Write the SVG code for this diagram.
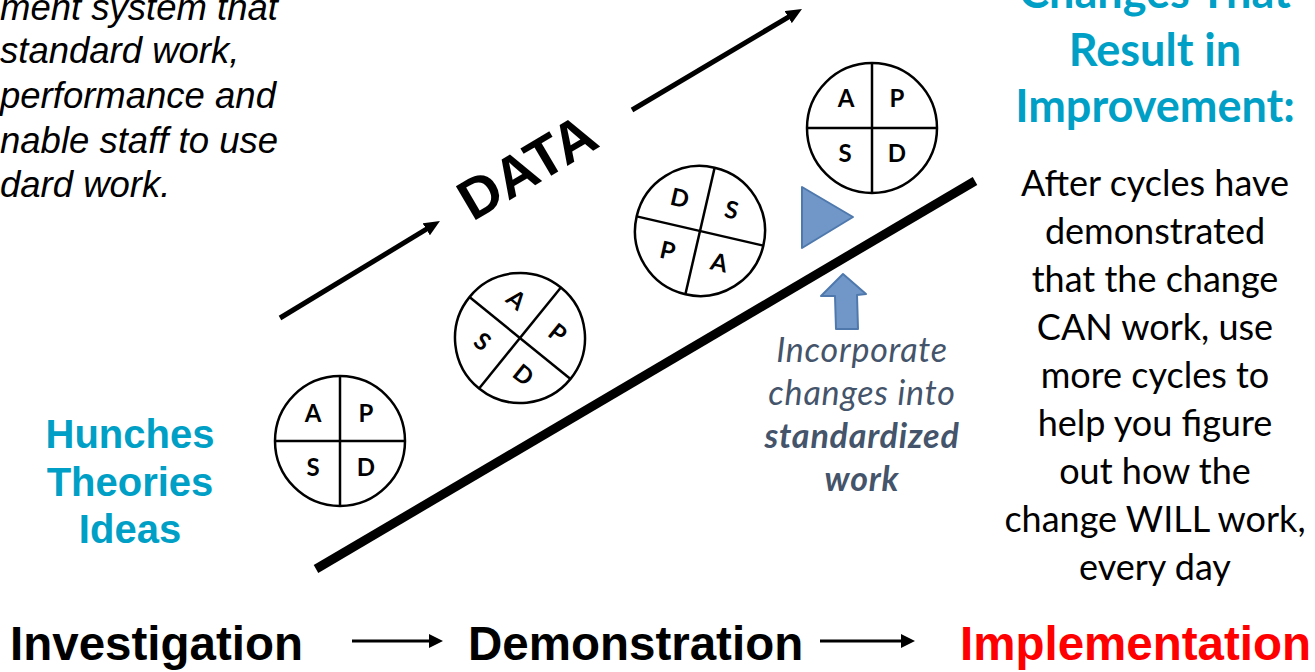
<svg xmlns="http://www.w3.org/2000/svg" width="1315" height="672" viewBox="0 0 1315 672">
  <style>
    .intro { font-family: "Liberation Sans", Arial, sans-serif; font-style: italic; font-size: 36.5px; fill: #000; }
    .teal { font-family: "Liberation Sans", Arial, sans-serif; font-weight: bold; font-size: 40px; fill: #00A0C6; text-anchor: middle; }
    .phase { font-family: "Liberation Sans", Arial, sans-serif; font-weight: bold; font-size: 47.5px; }
    .data { font-family: "Liberation Sans", Arial, sans-serif; font-weight: bold; font-size: 57px; fill: #000; text-anchor: middle; }
    .ring { fill: #fff; stroke: #000; stroke-width: 2.5; }
    .div { stroke: #000; stroke-width: 2.5; }
    .pdsa { font-family: Lato, "Open Sans", sans-serif; font-weight: bold; font-size: 24px; fill: #000; text-anchor: middle; }
    .head { font-family: Lato, "Open Sans", sans-serif; font-weight: bold; font-size: 45px; fill: #00A0C6; text-anchor: middle; }
    .body { font-family: Lato, "Open Sans", sans-serif; font-size: 36px; fill: #000; text-anchor: middle; }
    .note { font-family: Lato, "Open Sans", sans-serif; font-style: italic; font-size: 34px; letter-spacing: 0.8px; fill: #44546A; text-anchor: middle; }
    .blue { fill: #7097C8; stroke: #4F79AD; stroke-width: 2; stroke-linejoin: round; }
  </style>
  <defs>
    <marker id="bigHead" viewBox="0 0 16 14" refX="6" refY="7" markerWidth="16" markerHeight="14" markerUnits="userSpaceOnUse" orient="auto">
      <path d="M0,0 L16,7 L0,14 z" fill="#000"/>
    </marker>
    <marker id="smallHead" viewBox="0 0 14 14" refX="4" refY="7" markerWidth="14" markerHeight="14" markerUnits="userSpaceOnUse" orient="auto">
      <path d="M0,0 L14,7 L0,14 z" fill="#000"/>
    </marker>
    <!-- one PDSA wheel: ring and two dividers -->
    <g id="wheel">
      <circle class="ring" cx="0" cy="0" r="65"/>
      <line class="div" x1="0" y1="-65" x2="0" y2="65"/>
      <line class="div" x1="-65" y1="0" x2="65" y2="0"/>
    </g>
  </defs>

  <!-- description, running off the left edge -->
  <g id="intro">
    <text class="intro" x="0" y="20">ment system that</text>
    <text class="intro" x="0" y="63">standard work,</text>
    <text class="intro" x="0" y="108">performance and</text>
    <text class="intro" x="0" y="153">nable staff to use</text>
    <text class="intro" x="0" y="197">dard work.</text>
  </g>

  <!-- origin of ideas -->
  <g id="ideas">
    <text class="teal" x="130" y="448">Hunches</text>
    <text class="teal" x="130" y="496">Theories</text>
    <text class="teal" x="130" y="543">Ideas</text>
  </g>

  <!-- connectors -->
  <g id="connectors">
    <line x1="280" y1="318" x2="431.4" y2="226.2" stroke="#000" stroke-width="5" marker-end="url(#bigHead)"/>
    <line x1="632" y1="110" x2="793.4" y2="14.1" stroke="#000" stroke-width="5" marker-end="url(#bigHead)"/>
    <line x1="316" y1="569" x2="975" y2="181" stroke="#000" stroke-width="9"/>
    <line x1="352" y1="641" x2="433" y2="641" stroke="#000" stroke-width="3" marker-end="url(#smallHead)"/>
    <line x1="820" y1="641" x2="905" y2="641" stroke="#000" stroke-width="3" marker-end="url(#smallHead)"/>
  </g>

  <g id="data">
    <text class="data" transform="translate(537,184) rotate(-30.5)">DATA</text>
  </g>

  <!-- PDSA cycles climbing the ramp -->
  <g id="cycle1" transform="translate(340,441)">
    <use href="#wheel"/>
    <text class="pdsa" x="-27" y="-19">A</text>
    <text class="pdsa" x="26" y="-19">P</text>
    <text class="pdsa" x="-27" y="35">S</text>
    <text class="pdsa" x="26" y="35">D</text>
  </g>
  <g id="cycle2" transform="translate(520,338) rotate(39)">
    <use href="#wheel"/>
    <text class="pdsa" x="-27" y="-19">A</text>
    <text class="pdsa" x="26" y="-19">P</text>
    <text class="pdsa" x="-27" y="35">S</text>
    <text class="pdsa" x="26" y="35">D</text>
  </g>
  <g id="cycle3" transform="translate(700,231) rotate(13)">
    <use href="#wheel"/>
    <text class="pdsa" x="-27" y="-19">D</text>
    <text class="pdsa" x="26" y="-19">S</text>
    <text class="pdsa" x="-27" y="35">P</text>
    <text class="pdsa" x="26" y="35">A</text>
  </g>
  <g id="cycle4" transform="translate(872,128)">
    <use href="#wheel"/>
    <text class="pdsa" x="-26" y="-21">A</text>
    <text class="pdsa" x="25" y="-21">P</text>
    <text class="pdsa" x="-27" y="34">S</text>
    <text class="pdsa" x="25" y="34">D</text>
  </g>

  <g id="play">
    <polygon class="blue" points="802,187 802,248 853,217"/>
  </g>

  <g id="incorporate">
    <polygon class="blue" points="843,274 821,296 835,296 836,329 858,329 857,295 866,294"/>
    <text class="note" x="862" y="362">Incorporate</text>
    <text class="note" x="862" y="405">changes into</text>
    <text class="note" x="862" y="448" font-weight="bold">standardized</text>
    <text class="note" x="862" y="491" font-weight="bold">work</text>
  </g>

  <g id="improvement">
    <text class="head" x="1155" y="8">Changes That</text>
    <text class="head" x="1155" y="66">Result in</text>
    <text class="head" x="1155" y="122">Improvement:</text>
    <text class="body" x="1155" y="196">After cycles have</text>
    <text class="body" x="1155" y="244">demonstrated</text>
    <text class="body" x="1155" y="292">that the change</text>
    <text class="body" x="1155" y="340">CAN work, use</text>
    <text class="body" x="1155" y="388">more cycles to</text>
    <text class="body" x="1155" y="436">help you figure</text>
    <text class="body" x="1155" y="484">out how the</text>
    <text class="body" x="1155" y="532">change WILL work,</text>
    <text class="body" x="1155" y="580">every day</text>
  </g>

  <g id="phases">
    <text class="phase" x="10" y="660">Investigation</text>
    <text class="phase" x="468" y="660">Demonstration</text>
    <text class="phase" x="960" y="660" font-size="46" fill="#FF0000">Implementation</text>
  </g>
</svg>
